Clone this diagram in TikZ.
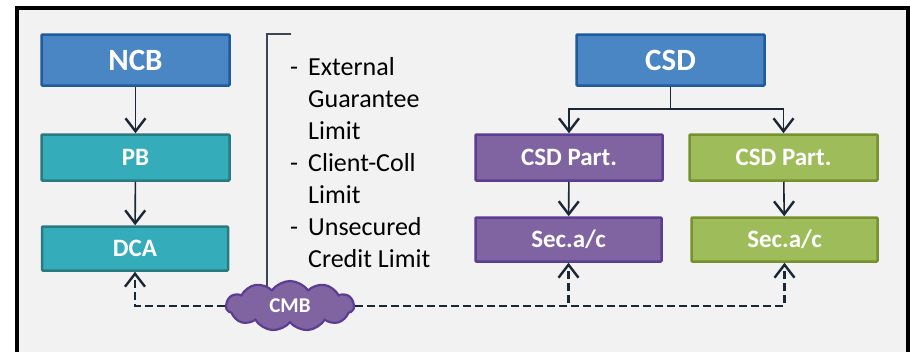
\documentclass[tikz,border=0pt]{standalone}
\usepackage{fontspec}
\setmainfont{Carlito}
\usetikzlibrary{arrows.meta,shapes.symbols}
\definecolor{bg}{HTML}{F2F2F2}
\definecolor{bluef}{HTML}{4A86C3}
\definecolor{blued}{HTML}{1F5B9E}
\definecolor{tealf}{HTML}{34ACBA}
\definecolor{teald}{HTML}{2B7A82}
\definecolor{purf}{HTML}{8064A2}
\definecolor{purd}{HTML}{5B3E91}
\definecolor{grnf}{HTML}{9FBC5A}
\definecolor{grnd}{HTML}{76922E}
\definecolor{ln}{HTML}{1B2735}
\begin{document}
\begin{tikzpicture}[x=1pt,y=-1pt,
  box/.style={draw, line width=2.5pt, rounded corners=1pt, inner sep=0pt, text=white,
    font=\bfseries\fontsize{25}{30}\selectfont},
  bigbox/.style={box, font=\bfseries\fontsize{31}{36}\selectfont, fill=bluef, draw=blued, minimum width=188pt, minimum height=51pt},
  tealbox/.style={box, fill=tealf, draw=teald},
  purbox/.style={box, fill=purf, draw=purd},
  grnbox/.style={box, fill=grnf, draw=grnd},
  conn/.style={draw=ln, line width=1.6pt, -{Straight Barb[length=13pt,width=20pt,line width=2.4pt]}},
  dconn/.style={conn, dash pattern=on 8pt off 4pt, line width=2.2pt},
]
\useasboundingbox (0,0) rectangle (910,351);
\fill[white] (0,0) rectangle (910,351);
\draw[line width=4pt, fill=bg] (17,8) rectangle (908,362);

% left column
\node[bigbox] (ncb) at (135.5,60) {NCB};
\node[tealbox, minimum width=188pt, minimum height=46pt] (pb) at (135.5,157.5) {PB};
\node[tealbox, minimum width=186pt, minimum height=44pt] (dca) at (135,248.5) {DCA};

% right column
\node[bigbox] (csd) at (670.5,60) {CSD};
\node[purbox, minimum width=187pt, minimum height=46pt] (p1) at (569,157.5) {CSD Part.};
\node[grnbox, minimum width=188pt, minimum height=46pt] (p2) at (783.5,157.5) {CSD Part.};
\node[purbox, minimum width=186pt, minimum height=44pt] (s1) at (568.5,239.5) {Sec.a/c};
\node[grnbox, minimum width=186pt, minimum height=44pt] (s2) at (784.5,239.5) {Sec.a/c};

% bracket and list
\coordinate (bk) at (291,34);
\coordinate (bb) at (267,292);
\draw[draw=ln!85, line width=2.5pt] (bk) -- (267,34) -- (bb);
\node[anchor=base west, inner sep=0pt, font=\fontsize{26}{32}\selectfont] (lst) at (290,75)
  {\begin{tabular}[t]{@{}p{18pt}@{}l@{}}
  - & External\\
    & Guarantee\\
    & Limit\\
  - & Client-Coll\\
    & Limit\\
  - & Unsecured\\
    & Credit Limit
  \end{tabular}};

% cloud
\node[cloud, cloud puffs=11, cloud puff arc=110, aspect=2.4, fill=purf, draw=purd, line width=2.2pt,
  minimum width=128pt, minimum height=50pt, inner sep=0pt, text=white,
  font=\bfseries\fontsize{21}{24}\selectfont] (cmb) at (290,306) {CMB};

% connectors
\draw[conn] (ncb) -- (pb);
\draw[conn] (pb) -- (dca);
\draw[conn] (csd.south) -- ++(0,22) -| (p1.north);
\draw[conn] (csd.south) -- ++(0,22) -| (p2.north);
\draw[conn] (p1) -- (s1);
\draw[conn] (p2) -- (s2);
\draw[dconn] (cmb.west) -| (dca.south);
\draw[dconn] (cmb.east) -| (s1.south);
\draw[dconn] (cmb.east) -| (s2.south);
\end{tikzpicture}
\end{document}
